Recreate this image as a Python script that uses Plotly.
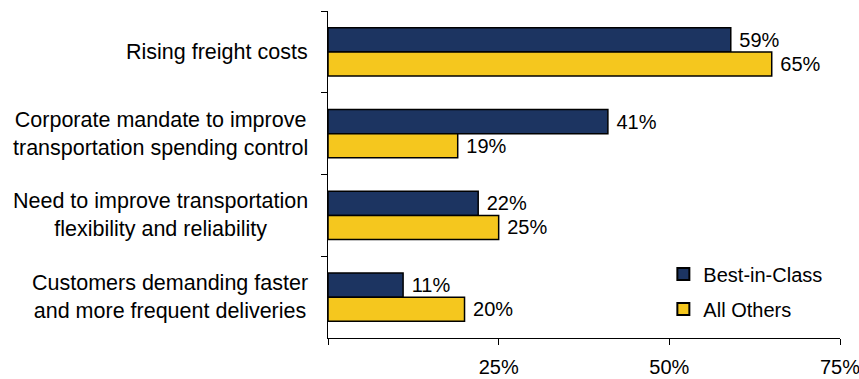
import plotly.graph_objects as go

categories = [
    "Rising freight costs",
    "Corporate mandate to improve<br>transportation spending control",
    "Need to improve transportation<br>flexibility and reliability",
    "Customers demanding faster<br>and more frequent deliveries",
]
best_in_class = [59, 41, 22, 11]
all_others = [65, 19, 25, 20]
series_names = ["Best-in-Class", "All Others"]
tick_vals = [0, 25, 50, 75]
tick_text = ["", "25%", "50%", "75%"]

FONT = "Liberation Sans, Arial, sans-serif"
navy = "#1C3461"
gold = "#F5C71E"

fig = go.Figure()
for name, vals, col in [(series_names[0], best_in_class, navy), (series_names[1], all_others, gold)]:
    fig.add_trace(go.Bar(
        y=categories, x=vals, name=name, orientation="h", legendgroup=name,
        marker=dict(color=col, line=dict(color="black", width=1.5)),
        text=[f"\u00a0{v}%" for v in vals], textposition="outside",
        textfont=dict(family=FONT, size=20, color="black"),
        cliponaxis=False,
    ))

for cat in categories:
    fig.add_annotation(
        x=-0.035, xref="paper", y=cat, yref="y", text=cat,
        xanchor="right", yanchor="middle", align="center", showarrow=False,
        font=dict(family=FONT, size=21.5, color="black"),
    )

fig.update_layout(
    width=859, height=379,
    margin=dict(l=328, r=19, t=11, b=41),
    paper_bgcolor="white", plot_bgcolor="white",
    barmode="group", bargap=0.41, bargroupgap=0,
    font=dict(family=FONT, size=20, color="black"),
    showlegend=True,
    legend=dict(x=0.655, y=0.255, xanchor="left", yanchor="top",
                font=dict(family=FONT, size=20, color="black"),
                bgcolor="rgba(0,0,0,0)", tracegroupgap=6, itemsizing="constant"),
    xaxis=dict(range=[0, 75], tickvals=tick_vals, ticktext=tick_text,
               showgrid=False, zeroline=False, showline=True, linecolor="black",
               linewidth=1, ticks="outside", ticklen=6, tickcolor="black",
               ticklabelstandoff=5, automargin=False, ticklabeloverflow="allow",
               tickfont=dict(family=FONT, size=20, color="black")),
    yaxis=dict(autorange="reversed", showgrid=False, zeroline=False, showline=True,
               linecolor="black", linewidth=1, ticks="outside", ticklen=6,
               tickcolor="black", tickson="boundaries", showticklabels=False,
               automargin=False),
)

fig.write_html("out.html")
